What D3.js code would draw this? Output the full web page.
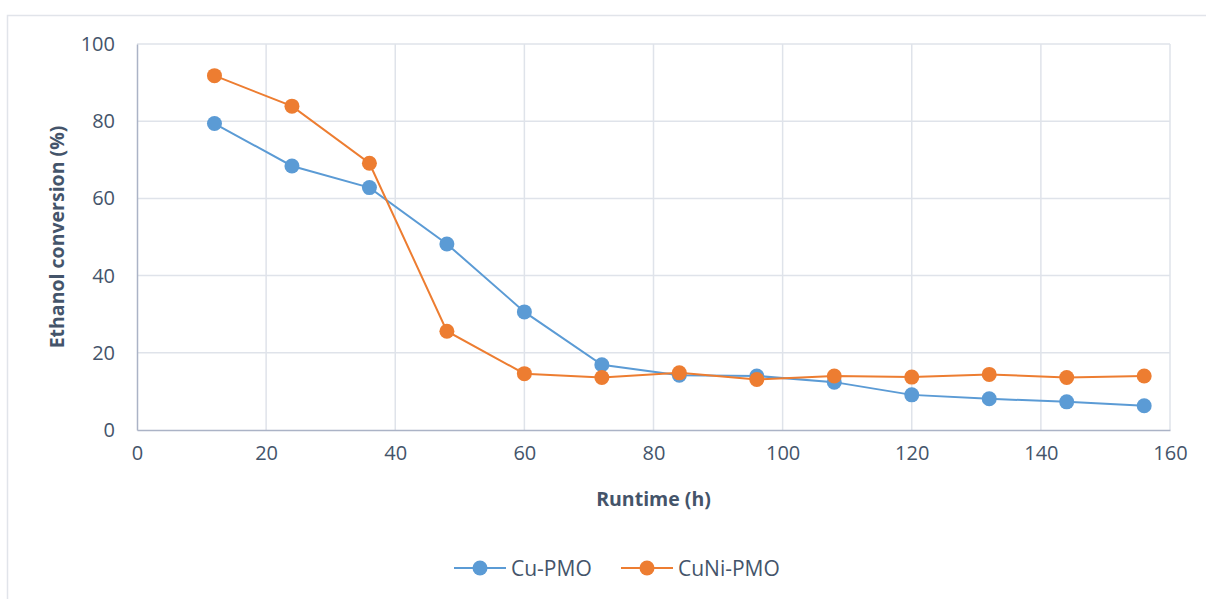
<!DOCTYPE html>
<html>
<head>
<meta charset="utf-8">
<script src="https://cdn.jsdelivr.net/npm/d3@7"></script>
<style>
  body { margin: 0; background: #fff; }
  text { font-family: "Open Sans", sans-serif; fill: #44546a; }
</style>
</head>
<body>
<div id="chart"></div>
<script>
// data
var runtime = [12, 24, 36, 48, 60, 72, 84, 96, 108, 120, 132, 144, 156];
var cuPMO   = [79.4, 68.4, 62.8, 48.2, 30.6, 16.9, 14.2, 14.0, 12.4, 9.1, 8.1, 7.3, 6.3];
var cuNiPMO = [91.8, 83.9, 69.1, 25.6, 14.6, 13.6, 14.8, 13.1, 14.0, 13.7, 14.4, 13.6, 14.0];
var seriesNames = ["Cu-PMO", "CuNi-PMO"];
var colors = ["#5b9bd5", "#ed7d31"];
var xTicks = [0, 20, 40, 60, 80, 100, 120, 140, 160];
var yTicks = [0, 20, 40, 60, 80, 100];

var W = 1206, H = 599;
var margin = {left: 137, right: 36, top: 44, bottom: 169};

var svg = d3.select("#chart").append("svg")
    .attr("width", W)
    .attr("height", H);

// outer chart frame (clipped at right/bottom like the reference)
svg.append("path")
    .attr("d", "M7.5," + H + "V15.5H" + W)
    .attr("fill", "none")
    .attr("stroke", "#e1e4ea")
    .attr("stroke-width", 1.5);

var x = d3.scaleLinear().domain([0, 160]).range([margin.left, W - margin.right]);
var y = d3.scaleLinear().domain([0, 100]).range([H - margin.bottom, margin.top]);

// gridlines
svg.append("g").selectAll("line.h")
    .data(yTicks.slice(1))
    .enter().append("line")
    .attr("x1", x(0)).attr("x2", x(160))
    .attr("y1", function(d){ return y(d); })
    .attr("y2", function(d){ return y(d); })
    .attr("stroke", "#dfe3ea").attr("stroke-width", 1.5);

svg.append("g").selectAll("line.v")
    .data(xTicks.slice(1))
    .enter().append("line")
    .attr("y1", y(0)).attr("y2", y(100))
    .attr("x1", function(d){ return x(d); })
    .attr("x2", function(d){ return x(d); })
    .attr("stroke", "#dfe3ea").attr("stroke-width", 1.5);

// axes
var xAxis = d3.axisBottom(x).tickValues(xTicks).tickSize(0).tickPadding(22);
var yAxis = d3.axisLeft(y).tickValues(yTicks).tickSize(0).tickPadding(22);

var gx = svg.append("g")
    .attr("transform", "translate(0," + y(0) + ")")
    .call(xAxis);
var gy = svg.append("g")
    .attr("transform", "translate(" + x(0) + ",0)")
    .call(yAxis);

[gx, gy].forEach(function(g){
  g.select(".domain").attr("stroke", "#abb3c6").attr("stroke-width", 1.5);
  g.selectAll("text")
    .attr("font-size", "20px")
    .attr("fill", "#44546a")
    .style("font-family", "'Open Sans', sans-serif");
});
gx.selectAll("text").attr("dy", "0.4em");

// axis titles
svg.append("text")
    .attr("x", (x(0) + x(160)) / 2)
    .attr("y", 506)
    .attr("text-anchor", "middle")
    .attr("font-size", "19.5px")
    .attr("font-weight", "bold")
    .text("Runtime (h)");

svg.append("text")
    .attr("transform", "translate(64," + (y(0) + y(100)) / 2 + ") rotate(-90)")
    .attr("text-anchor", "middle")
    .attr("font-size", "19.5px")
    .attr("font-weight", "bold")
    .text("Ethanol conversion (%)");

// lines + markers
var line = d3.line()
    .x(function(d){ return x(d[0]); })
    .y(function(d){ return y(d[1]); });

[cuPMO, cuNiPMO].forEach(function(vals, i){
  var pts = runtime.map(function(r, j){ return [r, vals[j]]; });
  var g = svg.append("g");
  g.append("path")
      .datum(pts)
      .attr("fill", "none")
      .attr("stroke", colors[i])
      .attr("stroke-width", 2)
      .attr("d", line);
  g.selectAll("circle")
      .data(pts)
      .enter().append("circle")
      .attr("cx", function(d){ return x(d[0]); })
      .attr("cy", function(d){ return y(d[1]); })
      .attr("r", 7.5)
      .attr("fill", colors[i]);
});

// legend
var legendX = [454, 621];
var legend = svg.append("g").attr("transform", "translate(0,568)");
seriesNames.forEach(function(name, i){
  var lg = legend.append("g").attr("transform", "translate(" + legendX[i] + ",0)");
  lg.append("line")
      .attr("x1", 0).attr("x2", 52)
      .attr("stroke", colors[i]).attr("stroke-width", 2);
  lg.append("circle")
      .attr("cx", 26).attr("r", 7.5)
      .attr("fill", colors[i]);
  lg.append("text")
      .attr("x", 57)
      .attr("dy", "0.36em")
      .attr("font-size", "21px")
      .text(name);
});
</script>
</body>
</html>
